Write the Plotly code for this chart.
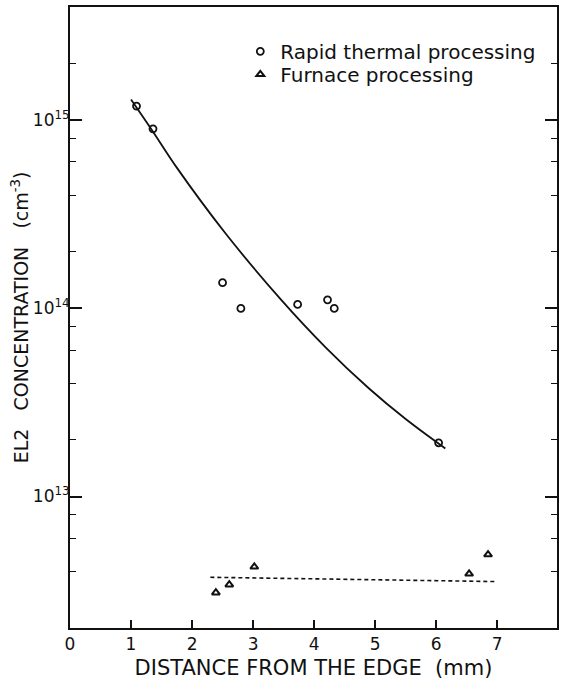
import plotly.graph_objects as go

# Rapid thermal processing (RTP) samples
rtp_distance = [1.09, 1.36, 2.50, 2.80, 3.73, 4.22, 4.33, 6.04]
rtp_el2 = [1.19e15, 9.0e14, 1.37e14, 1.0e14, 1.05e14, 1.11e14, 1.0e14, 1.93e13]

# Smooth trend drawn through the RTP data
fit_distance = [1.0, 1.36, 1.75, 2.55, 3.45, 4.2, 4.9, 5.5, 6.15]
fit_el2 = [1.29e15, 8.7e14, 5.6e14, 2.5e14, 1.12e14, 6.15e13, 3.75e13, 2.58e13, 1.80e13]

# Furnace-processed samples
furnace_distance = [2.39, 2.61, 3.02, 6.54, 6.85]
furnace_el2 = [3.08e12, 3.40e12, 4.23e12, 3.88e12, 4.91e12]

# Average level of the furnace samples (dashed)
level_distance = [2.30, 7.0]
level_el2 = [3.72e12, 3.53e12]

# Axis ticks
x_ticks = [0, 1, 2, 3, 4, 5, 6, 7]
x_labels = ["0", "1", "2", "3", "4", "5", "6", "7"]
y_ticks = [1e13, 1e14, 1e15]
y_labels = ["10<sup>13</sup>", "10<sup>14</sup>", "10<sup>15</sup>"]
y_minor = [m * 10.0 ** e for e in (12, 13, 14, 15) for m in (2, 4, 6, 8)]

INK = "#111111"
FONT = "DejaVu Sans"
GAP = "\u00a0\u00a0\u00a0"

fig = go.Figure()

fig.add_trace(go.Scatter(
    x=fit_distance, y=fit_el2, mode="lines",
    line=dict(color=INK, width=1.8, shape="spline", smoothing=1.0),
    showlegend=False, hoverinfo="skip",
))
fig.add_trace(go.Scatter(
    x=level_distance, y=level_el2, mode="lines",
    line=dict(color=INK, width=1.6, dash="4px,3px"),
    showlegend=False, hoverinfo="skip",
))
fig.add_trace(go.Scatter(
    x=rtp_distance, y=rtp_el2, mode="markers",
    name="Rapid thermal processing", legend="legend",
    marker=dict(symbol="circle-open", size=7, color=INK, line=dict(width=1.8, color=INK)),
))
fig.add_trace(go.Scatter(
    x=furnace_distance, y=furnace_el2, mode="markers",
    name="Furnace processing", legend="legend2",
    marker=dict(symbol="triangle-up-open", size=7, color=INK, line=dict(width=2, color=INK)),
))

legend_style = dict(
    xanchor="left", yanchor="top",
    bgcolor="rgba(0,0,0,0)", borderwidth=0,
    font=dict(family=FONT, size=20, color=INK),
    itemsizing="trace",
)

fig.update_layout(
    width=561, height=687,
    margin=dict(l=70, r=2, t=7, b=59),
    paper_bgcolor="white", plot_bgcolor="white",
    font=dict(family=FONT, color=INK, size=17),
    legend=dict(x=0.3497, y=0.960, **legend_style),
    legend2=dict(x=0.3497, y=0.923, **legend_style),
    xaxis=dict(
        range=[0, 7.98], showgrid=False, zeroline=False,
        showline=True, linecolor=INK, linewidth=2, mirror=True,
        ticks="inside", ticklen=8, tickwidth=1.6, tickcolor=INK,
        tickmode="array", tickvals=x_ticks, ticktext=x_labels,
        tickfont=dict(size=17),
        title=dict(text="DISTANCE FROM THE EDGE\u00a0\u00a0(mm)", font=dict(size=21), standoff=7),
    ),
    yaxis=dict(
        type="log", range=[12.301, 15.602], showgrid=False, zeroline=False,
        showline=True, linecolor=INK, linewidth=2, mirror="ticks",
        ticks="inside", ticklen=12, tickwidth=1.6, tickcolor=INK,
        tickmode="array", tickvals=y_ticks, ticktext=y_labels,
        tickfont=dict(size=17), ticklabelstandoff=-5,
        minor=dict(tickvals=y_minor, ticks="inside", ticklen=6, tickwidth=1.4, tickcolor=INK),
    ),
    annotations=[dict(
        text=f"EL2{GAP}CONCENTRATION{GAP}(cm<sup>-3</sup>)",
        xref="paper", yref="paper", x=-0.103, y=0.5,
        xanchor="center", yanchor="middle", textangle=-90,
        showarrow=False, font=dict(family=FONT, size=19, color=INK),
    )],
)

fig.write_html("out.html")
